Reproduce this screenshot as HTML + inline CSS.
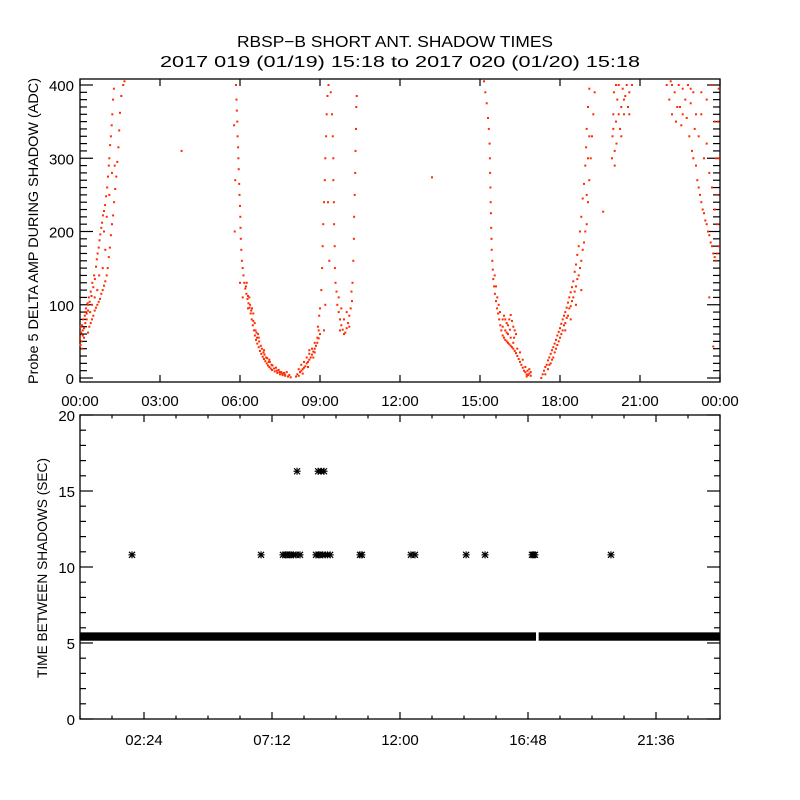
<!DOCTYPE html>
<html><head><meta charset="utf-8"><style>
html,body{margin:0;padding:0;background:#fff;}
svg{display:block;font-family:"Liberation Sans",sans-serif;}
</style></head><body>
<svg id="chart" width="800" height="800" viewBox="0 0 800 800" xmlns="http://www.w3.org/2000/svg">
<rect x="0" y="0" width="800" height="800" fill="#fff"/>
<text x="395" y="47" text-anchor="middle" font-size="16" textLength="316" lengthAdjust="spacingAndGlyphs">RBSP−B SHORT ANT. SHADOW TIMES</text>
<text x="400" y="67" text-anchor="middle" font-size="16" textLength="480" lengthAdjust="spacingAndGlyphs">2017 019 (01/19) 15:18 to 2017 020 (01/20) 15:18</text>
<g id="topPanel"></g>
<g id="botPanel"></g>
<text transform="translate(38,231) rotate(-90)" text-anchor="middle" font-size="14" textLength="306" lengthAdjust="spacingAndGlyphs">Probe 5 DELTA AMP DURING SHADOW (ADC)</text>
<text transform="translate(47,568) rotate(-90)" text-anchor="middle" font-size="14" textLength="220" lengthAdjust="spacingAndGlyphs">TIME BETWEEN SHADOWS (SEC)</text>
</svg>
<script>
// ---- top panel data (hours, ADC) ----
const ampTimesA=[0.0,0.02,0.04,0.06,0.08,0.1,0.12,0.15,0.18,0.2,0.22,0.25,0.28,0.3,0.33,0.36,0.4,0.43,0.46,0.5,0.53,0.56,0.6,0.63,0.66,0.7,0.73,0.76,0.8,0.83,0.86,0.9,0.94,0.98,1.02,1.05,1.08,1.1,1.13,1.16,1.19,1.21,1.24,1.27,
0.3,0.35,0.4,0.45,0.5,0.55,0.6,0.65,0.7,0.75,0.8,0.85,0.9,0.95,1.0,1.04,1.08,1.12,1.16,1.2,1.24,1.28,1.32,1.36,1.4,1.44,1.47,1.5,1.55,1.62,1.67,3.81];
const ampValuesA=[55,45,62,50,72,58,80,68,85,75,95,88,102,92,110,104,118,112,130,124,140,135,152,162,170,178,188,196,205,212,222,228,236,248,260,275,290,300,318,330,345,360,380,395,
62,70,75,80,85,92,96,100,104,108,115,120,126,132,140,150,165,178,195,210,222,240,258,275,295,315,338,362,385,400,405,310];
const ampTimesB=[5.85,5.87,5.88,5.9,5.91,5.93,5.94,5.95,5.97,5.98,6.0,6.01,6.02,6.03,6.05,6.07,6.1,6.13,6.16,6.2,6.24,6.28,6.32,6.36,6.4,6.44,6.48,6.52,6.56,6.6,6.65,6.7,6.75,6.8,6.85,6.9,6.95,7.0,7.05,7.1,7.15,7.2,7.3,7.4,7.5,7.6,7.7,7.8,7.9,
6.25,6.35,6.45,6.55,6.62,6.72,6.82,6.92,7.02,7.12,7.22,7.35,7.45,7.55,7.65,5.82,5.8,5.78,6.0,6.1,
8.1,8.15,8.2,8.25,8.3,8.35,8.4,8.45,8.5,8.55,8.6,8.65,8.7,8.75,8.8,8.85,8.9,8.95,9.0,8.92,8.97,9.0,9.05,9.08,9.1,9.12,9.15,9.18,9.2,9.23,9.25,9.28,9.32,9.4,9.45,9.48,9.5,9.5,9.52,9.53,9.55,9.56,9.58,9.35,9.3,9.2,9.15,
9.62,9.65,9.7,9.75,9.8,9.85,9.9,9.95,10.0,10.05,10.1,10.15,10.2,9.7,9.8,9.9,10.0,10.1,9.75,10.18,
10.22,10.25,10.27,10.28,10.3,10.32,10.33,10.35,10.36,10.38,13.2];
const ampValuesB=[400,380,365,350,330,315,300,285,265,250,235,220,205,190,175,160,150,140,130,122,115,108,102,96,88,80,72,65,58,52,47,42,37,33,29,26,23,20,17,15,13,11,9,7,5,4,3,2,1,
130,110,95,75,62,50,40,32,27,22,17,14,11,8,7,270,200,345,130,110,
2,5,3,8,10,12,14,16,20,22,25,28,32,36,40,44,48,54,60,70,85,95,120,150,180,210,240,270,300,330,360,385,400,390,360,330,300,270,240,210,180,150,130,160,240,100,65,
118,100,90,80,72,66,60,62,68,75,85,95,105,110,95,80,90,70,65,118,
130,160,190,220,250,280,310,340,370,385,274];
const ampTimesC=[15.15,15.2,15.25,15.3,15.33,15.36,15.37,15.38,15.39,15.4,15.41,15.42,15.43,15.44,15.46,15.48,15.5,15.53,15.56,15.6,15.64,15.68,15.72,15.76,15.8,15.85,15.9,15.95,16.0,16.05,16.1,16.15,16.2,16.25,16.3,16.35,16.4,16.45,16.5,16.55,16.6,16.65,16.7,16.75,16.8,16.85,16.9,
15.9,15.95,16.0,16.05,16.1,16.15,16.2,16.25,16.3,16.35,15.85,16.0,16.12,16.28,15.7,15.6,15.55,
17.3,17.35,17.4,17.45,17.5,17.55,17.6,17.65,17.7,17.75,17.8,17.85,17.9,17.95,18.0,18.05,18.1,18.15,18.2,18.25,18.3,18.35,18.4,18.45,18.5,18.55,18.6,18.65,18.7,18.75,18.8,18.85,18.9,18.95,18.98,19.0,19.05,19.1,
17.6,17.7,17.8,17.9,18.0,18.1,18.2,18.3,18.4,18.5,18.6,18.7,18.8,18.9,19.0,19.05,19.1,19.15,19.2,19.25,19.3];
const ampValuesC=[405,390,375,355,340,320,300,280,260,240,225,205,190,175,160,148,135,125,115,105,95,88,80,72,65,58,55,52,50,48,46,44,42,40,37,34,30,26,22,18,14,10,8,5,4,6,3,
85,80,75,72,80,86,78,70,65,60,70,62,66,55,100,125,140,
0,5,10,15,18,24,28,33,38,42,47,52,58,63,68,74,80,85,90,96,103,110,117,124,132,145,155,168,180,200,220,245,265,290,315,340,370,395,
18,25,35,45,55,65,75,85,98,110,125,140,160,185,210,240,270,300,330,360,390];
const ampTimesD=[19.95,19.97,20.0,20.02,20.05,20.1,20.15,20.2,20.25,20.3,20.35,20.4,20.45,20.5,20.55,20.6,20.7,20.05,20.12,20.3,19.62,
22.0,22.1,22.15,22.2,22.3,22.35,22.45,22.5,22.55,22.6,22.7,22.75,22.8,22.85,22.9,22.95,23.0,23.0,23.05,23.1,23.15,23.2,23.25,23.3,23.35,23.4,23.45,23.5,23.55,23.6,23.65,23.7,23.75,23.8,23.85,23.9,23.95,23.9,23.85,23.92,23.95,23.7,23.5,23.3,23.2,23.4,23.6,23.8,23.6,23.75];
const ampValuesD=[300,330,360,390,310,350,380,400,340,370,395,360,385,400,370,390,400,290,320,330,227,
400,380,405,360,390,350,400,370,345,395,380,355,400,330,375,310,300,390,340,290,270,260,250,240,230,225,215,210,200,195,185,180,170,165,160,170,180,250,300,350,395,400,380,360,330,300,280,230,110,43];
const ampTimesE=[6.22,6.3,6.38,6.42,6.5,6.58,6.64,6.68,6.78,6.88,6.98,7.08,7.18,7.28,7.38,7.48,7.58,7.68,7.75,7.85,6.3,6.5,6.7,6.9,7.1,
8.2,8.3,8.4,8.5,8.6,8.7,8.8,8.9,8.95,8.35,8.55,8.75,8.6,8.8,
0.03,0.07,0.1,0.15,0.2,0.25,0.3,0.38,0.45,0.55,0.65,0.72,0.85,0.95,0.9,1.0,1.1,1.2,1.3,
15.65,15.75,15.85,15.95,16.05,16.15,16.25,16.4,16.5,16.6,16.7,16.78,16.85,16.9,16.75,
17.45,17.55,17.65,17.75,17.85,17.95,18.05,18.15,18.25,18.35,18.45,18.55,18.65,18.75,18.85,18.95,19.0,19.05,19.1,18.8,18.6,18.4,18.2,
20.0,20.1,20.2,20.4,20.6,22.2,22.4,22.6,22.9,23.1,23.3,23.5,23.7,23.9,23.95,23.8];
const ampValuesE=[125,112,100,92,78,65,55,60,44,35,28,22,18,13,10,8,6,5,8,4,95,88,55,38,25,
12,18,22,28,33,40,48,55,65,6,15,28,38,35,
70,40,65,55,90,80,100,90,100,110,120,140,150,175,200,220,250,280,290,
110,90,80,65,60,55,48,40,35,25,15,10,12,8,2,
5,12,20,28,40,50,60,72,82,95,105,118,135,150,175,200,250,300,330,120,100,80,65,
340,400,360,380,360,400,370,360,395,360,390,320,260,210,300,350];
const topXTicks=["00:00","03:00","06:00","09:00","12:00","15:00","18:00","21:00","00:00"];
const topYTicks=[0,100,200,300,400];
// ---- bottom panel data (hours, seconds) ----
const gapTimes=[1.95,6.79,7.61,7.7,7.76,7.85,7.91,8.0,8.1,8.25,8.85,8.95,9.0,9.1,9.19,9.28,9.38,10.5,10.57,12.41,12.56,14.48,15.19,16.95,17.0,17.06,19.91,8.14,8.93,9.04,9.15];
const gapValues=[10.8,10.8,10.8,10.8,10.8,10.8,10.8,10.8,10.8,10.8,10.8,10.8,10.8,10.8,10.8,10.8,10.8,10.8,10.8,10.8,10.8,10.8,10.8,10.8,10.8,10.8,10.8,16.3,16.3,16.3,16.3];
const bandStart=[0,17.2];
const bandEnd=[17.1,24];
const bandLow=[5.15,5.15];
const bandHigh=[5.7,5.7];
const botXTicks=["02:24","07:12","12:00","16:48","21:36"];
const botYTicks=[0,5,10,15,20];

const NS="http://www.w3.org/2000/svg";
function mk(tag,attrs,parent){const e=document.createElementNS(NS,tag);for(const k in attrs)e.setAttribute(k,attrs[k]);parent.appendChild(e);return e;}
const X0=80,X1=720;
const xs=h=>X0+(h/24)*(X1-X0);
const TT=79,TB=382;
const yTop=v=>378-v*0.7325;
const BT=415,BB=719;
const yBot=v=>BB-v*((BB-BT)/20);

const topG=document.getElementById('topPanel');
const botG=document.getElementById('botPanel');

const tf=mk('rect',{x:X0,y:TT,width:X1-X0,height:TB-TT,fill:'none',stroke:'#000','stroke-width':1.3},topG);


for(let v=0;v<=400;v+=10){
  const y=yTop(v);const len=(v%100===0)?13:7;
  const l=mk('line',{x1:X0,x2:X0+len,y1:y,y2:y,stroke:'#000','stroke-width':1.2},topG);
  
  
  const r=mk('line',{x1:X1,x2:X1-len,y1:y,y2:y,stroke:'#000','stroke-width':1.2},topG);
  
  
}
topYTicks.forEach(v=>{
  const t=mk('text',{x:74,y:yTop(v)+6,'text-anchor':'end','font-size':15},topG);
  t.textContent=String(v);
  
  
});
topXTicks.forEach((s,i)=>{
  const x=xs(i*3);
  const a=mk('line',{x1:x,x2:x,y1:TB,y2:TB-7,stroke:'#000','stroke-width':1.2},topG);
  
  
  const b=mk('line',{x1:x,x2:x,y1:TT,y2:TT+7,stroke:'#000','stroke-width':1.2},topG);
  
  
  const t=mk('text',{x:x,y:406,'text-anchor':'middle','font-size':15},topG);
  t.textContent=s;
  
  
});
const ptsG=mk('g',{fill:'#ff2a00'},topG);


[[ampTimesA,ampValuesA],[ampTimesB,ampValuesB],[ampTimesC,ampValuesC],[ampTimesD,ampValuesD],[ampTimesE,ampValuesE]].forEach(([ts,vs])=>{
  ts.forEach((t,i)=>{
    const x=xs(t),y=yTop(vs[i]);
    if(y<TT||y>TB)return;
    const p=mk('rect',{x:(x-1).toFixed(1),y:(y-1).toFixed(1),width:2,height:2},ptsG);
    
    
  });
});

const bf=mk('rect',{x:X0,y:BT,width:X1-X0,height:BB-BT,fill:'none',stroke:'#000','stroke-width':1.3},botG);


for(let v=0;v<=20;v+=1){
  const y=yBot(v);const len=(v%5===0)?13:6;
  const l=mk('line',{x1:X0,x2:X0+len,y1:y,y2:y,stroke:'#000','stroke-width':1.2},botG);
  
  
  const r=mk('line',{x1:X1,x2:X1-len,y1:y,y2:y,stroke:'#000','stroke-width':1.2},botG);
  
  
}
botYTicks.forEach(v=>{
  const t=mk('text',{x:75,y:yBot(v)+6,'text-anchor':'end','font-size':15},botG);
  t.textContent=String(v);
  
  
});
for(let k=0;k<=20;k++){
  const x=xs(k*1.2);const len=(k%4===2)?7:3.5;
  const a=mk('line',{x1:x,x2:x,y1:BB,y2:BB-len,stroke:'#000','stroke-width':1.2},botG);
  
  
  const b=mk('line',{x1:x,x2:x,y1:BT,y2:BT+len,stroke:'#000','stroke-width':1.2},botG);
  
  
}
botXTicks.forEach((s,i)=>{
  const t=mk('text',{x:xs(2.4+i*4.8),y:745,'text-anchor':'middle','font-size':15},botG);
  t.textContent=s;
  
  
});
bandStart.forEach((s,i)=>{
  const r=mk('rect',{x:xs(s),y:yBot(bandHigh[i]),width:xs(bandEnd[i])-xs(s),height:yBot(bandLow[i])-yBot(bandHigh[i]),fill:'#000'},botG);
  
  
});
gapTimes.forEach((t,i)=>{
  const x=xs(t),y=yBot(gapValues[i]);
  const g=mk('g',{stroke:'#000','stroke-width':1.2},botG);
  
  
  mk('line',{x1:x-3.5,x2:x+3.5,y1:y,y2:y},g);
  mk('line',{x1:x,x2:x,y1:y-3.5,y2:y+3.5},g);
  mk('line',{x1:x-3,x2:x+3,y1:y-3,y2:y+3},g);
  mk('line',{x1:x-3,x2:x+3,y1:y+3,y2:y-3},g);
});
</script>
</body></html>
